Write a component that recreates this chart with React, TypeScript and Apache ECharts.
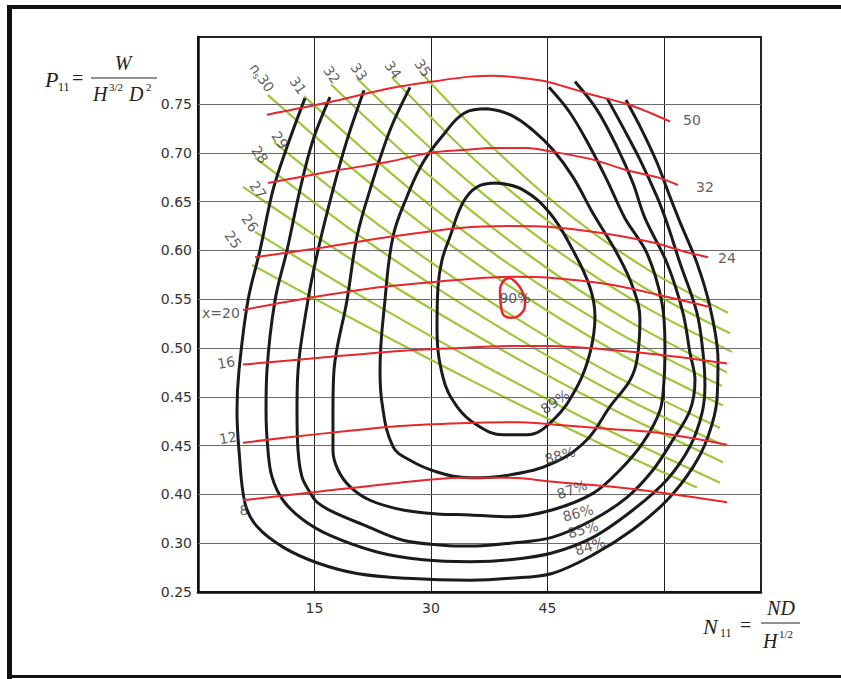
import React, { useEffect, useRef } from "react";
import * as echarts from "echarts";

// ---- axes ----
const xTickLabels = [15, 30, 45];
const yTickLabels = ["0.25", "0.30", "0.40", "0.45", "0.45", "0.50", "0.55", "0.60", "0.65", "0.70", "0.75"];
const yGridValues = [0.3, 0.35, 0.4, 0.45, 0.5, 0.55, 0.6, 0.65, 0.7, 0.75];

// ---- efficiency contours [N11, P11-position] ----
const eff84 = [[13.78,0.756],[11.46,0.706],[9.66,0.662],[7.98,0.600],[6.44,0.549],[5.28,0.477],[5.02,0.436],[5.28,0.395],[6.05,0.341],[7.60,0.317],[10.95,0.296],[15.32,0.280],[20.47,0.269],[26.91,0.264],[35.02,0.262],[40.18,0.264],[45.58,0.269],[50.86,0.288],[56.01,0.314],[60.39,0.344],[63.74,0.378],[65.67,0.409],[66.83,0.447],[66.96,0.488],[65.93,0.542],[64.25,0.587],[62.07,0.629],[60.78,0.655],[59.10,0.690],[57.17,0.723],[55.11,0.754]];
const eff85 = [[17.00,0.757],[14.81,0.713],[13.13,0.662],[11.46,0.600],[9.92,0.549],[8.88,0.477],[8.76,0.436],[9.01,0.395],[9.53,0.368],[10.95,0.344],[13.52,0.324],[17.00,0.308],[23.05,0.291],[28.97,0.283],[35.02,0.281],[40.18,0.283],[45.58,0.290],[50.86,0.306],[56.01,0.334],[60.39,0.365],[63.35,0.399],[64.90,0.433],[65.28,0.462],[65.03,0.495],[64.25,0.536],[62.07,0.587],[60.39,0.628],[59.10,0.655],[56.91,0.693],[54.73,0.726],[52.67,0.756]];
const eff86 = [[21.38,0.764],[19.19,0.713],[17.38,0.662],[15.45,0.600],[14.16,0.549],[12.88,0.477],[12.75,0.436],[12.88,0.395],[13.39,0.368],[14.42,0.352],[15.32,0.342],[17.38,0.332],[21.25,0.319],[26.40,0.303],[31.55,0.298],[35.02,0.297],[40.18,0.300],[45.58,0.306],[50.86,0.324],[55.24,0.347],[58.59,0.375],[61.16,0.406],[63.35,0.436],[64.00,0.467],[63.35,0.495],[62.45,0.536],[60.39,0.587],[57.56,0.633],[56.01,0.669],[53.95,0.706],[51.38,0.744],[48.54,0.773]];
const eff87 = [[27.30,0.767],[24.72,0.723],[22.15,0.662],[20.47,0.614],[19.19,0.549],[17.51,0.477],[17.38,0.436],[17.38,0.395],[18.03,0.375],[19.57,0.358],[22.15,0.344],[26.40,0.334],[30.78,0.330],[35.02,0.329],[40.18,0.327],[45.58,0.334],[50.86,0.351],[54.34,0.375],[57.30,0.403],[59.49,0.436],[60.01,0.467],[60.13,0.501],[59.75,0.546],[57.82,0.597],[54.98,0.633],[52.67,0.672],[50.48,0.706],[47.90,0.741],[45.20,0.767]];
const eff88 = [[37.21,0.745],[34.38,0.741],[31.55,0.718],[28.97,0.690],[26.91,0.655],[25.11,0.614],[24.08,0.549],[23.44,0.477],[23.69,0.444],[25.11,0.399],[27.30,0.385],[30.78,0.373],[35.02,0.367],[40.18,0.370],[45.71,0.382],[50.09,0.406],[53.05,0.440],[55.63,0.467],[56.53,0.488],[56.91,0.529],[56.01,0.562],[53.95,0.597],[50.86,0.638],[48.29,0.675],[45.71,0.703],[43.14,0.723],[40.18,0.739],[37.21,0.745]];
const eff89 = [[38.50,0.669],[41.85,0.662],[45.33,0.638],[48.29,0.600],[50.48,0.562],[51.12,0.532],[50.48,0.495],[48.80,0.460],[45.71,0.426],[42.36,0.411],[39.27,0.411],[35.93,0.421],[33.35,0.440],[31.55,0.470],[30.78,0.522],[30.90,0.562],[31.42,0.590],[32.45,0.614],[34.12,0.649],[35.93,0.665],[38.50,0.669]];
const eff90 = [[40.18,0.572],[41.46,0.562],[42.11,0.546],[41.46,0.534],[40.18,0.531],[39.15,0.537],[38.89,0.556],[39.27,0.568],[40.18,0.572]];

// ---- guide-vane opening lines (red) ----
const open50 = [[8.88,0.739],[17.00,0.752],[24.72,0.766],[30.26,0.773],[35.02,0.778],[37.99,0.779],[42.36,0.776],[45.33,0.772],[50.48,0.760],[55.24,0.750],[58.20,0.741],[60.78,0.732]];
const open32 = [[9.01,0.669],[17.90,0.682],[24.72,0.691],[29.87,0.700],[34.38,0.703],[37.99,0.705],[42.36,0.705],[45.71,0.701],[50.86,0.693],[55.24,0.682],[59.49,0.674],[61.81,0.667]];
const open24 = [[7.34,0.593],[16.10,0.603],[24.72,0.614],[33.74,0.623],[40.18,0.625],[45.33,0.624],[51.76,0.618],[58.59,0.608],[62.97,0.598],[65.67,0.593]];
const open20 = [[5.79,0.539],[14.04,0.551],[23.05,0.562],[33.74,0.570],[40.18,0.573],[45.33,0.572],[53.05,0.565],[59.49,0.554],[65.93,0.542]];
const open16 = [[5.79,0.483],[15.71,0.490],[26.01,0.497],[33.74,0.500],[40.18,0.502],[45.33,0.502],[51.76,0.499],[59.49,0.493],[68.12,0.484]];
const open12 = [[5.79,0.403],[15.71,0.412],[26.01,0.420],[33.74,0.423],[41.46,0.424],[46.61,0.421],[53.05,0.417],[59.49,0.413],[68.12,0.401]];
const open8 = [[5.79,0.344],[15.71,0.353],[26.01,0.362],[33.74,0.367],[40.18,0.367],[45.71,0.363],[53.05,0.358],[59.49,0.352],[68.12,0.342]];

// ---- specific speed lines (green) ----
const ns35 = [[28.84,0.781],[38.69,0.700],[48.54,0.632],[58.40,0.578],[68.25,0.536]];
const ns34 = [[24.98,0.777],[35.86,0.691],[46.74,0.620],[57.62,0.561],[68.50,0.515]];
const ns33 = [[20.47,0.776],[32.55,0.686],[44.62,0.609],[56.69,0.546],[68.76,0.496]];
const ns32 = [[17.13,0.770],[29.87,0.676],[42.62,0.595],[55.37,0.528],[68.12,0.475]];
const ns31 = [[13.65,0.758],[27.11,0.664],[40.56,0.583],[54.02,0.516],[67.47,0.461]];
const ns30 = [[9.01,0.759],[23.66,0.659],[38.31,0.573],[52.96,0.500],[67.60,0.441]];
const ns29 = [[9.79,0.711],[24.14,0.621],[38.50,0.543],[52.86,0.475],[67.22,0.418]];
const ns28 = [[7.34,0.695],[22.37,0.606],[37.41,0.528],[52.44,0.459],[67.47,0.401]];
const ns27 = [[5.79,0.665],[21.25,0.583],[36.70,0.509],[52.15,0.442],[67.60,0.383]];
const ns26 = [[7.34,0.619],[22.31,0.547],[37.28,0.480],[52.25,0.418],[67.22,0.362]];
const ns25 = [[6.95,0.585],[21.28,0.524],[35.60,0.465],[49.93,0.409],[64.25,0.357]];

// ---- labels [N11, P11-position, text, rotation°] ----
const effLabels: [number, number, string, number][] = [
  [40.82, 0.551, "90%", 0], [45.97, 0.445, "89%", 35], [46.61, 0.390, "88%", 15],
  [48.16, 0.355, "87%", 20], [48.93, 0.331, "86%", 15], [49.57, 0.314, "85%", 15], [50.48, 0.297, "84%", 18],
];
const openingLabels: [number, number, string, number][] = [
  [63.61, 0.734, "50", 0], [65.28, 0.665, "32", 0], [68.12, 0.592, "24", 0], [2.96, 0.536, "x=20", 0],
  [3.61, 0.485, "16", 10], [3.86, 0.408, "12", 10], [5.92, 0.334, "8", 0],
];
const nsLabels: [number, number, string, number][] = [
  [8.24, 0.777, "{n|n}{s|s}{n|30}", -55], [12.88, 0.769, "31", -55], [17.25, 0.780, "32", -55],
  [20.73, 0.783, "33", -55], [25.11, 0.785, "34", -55], [28.97, 0.787, "35", -55],
  [10.56, 0.713, "29", -55], [7.98, 0.698, "28", -55], [7.73, 0.662, "27", -55],
  [6.70, 0.628, "26", -55], [4.51, 0.611, "25", -55],
];

const FONT = "DejaVu Sans";
const BLACK = "#1b1b1b";
const RED = "#e8262b";
const GREEN = "#9fc73a";
const TEXT = "#333";

const lineSeries = (data: number[][], color: string, width: number, z: number, smooth = 0.35) => ({
  type: "line",
  data,
  symbol: "none",
  showSymbol: false,
  smooth,
  silent: true,
  z,
  lineStyle: { color, width },
});

const labelSeries = (items: [number, number, string, number][], size: number) => ({
  type: "scatter",
  symbolSize: 0,
  silent: true,
  clip: false,
  z: 20,
  data: items.map(([x, y, t, r]) => ({ value: [x, y], label: { formatter: t, rotate: r } })),
  label: {
    show: true,
    position: "inside",
    color: TEXT,
    fontSize: size,
    fontFamily: FONT,
    rich: {
      n: { fontSize: size, fontFamily: FONT, color: TEXT },
      s: { fontSize: 9, fontFamily: FONT, color: TEXT, padding: [8, 0, 0, 0] },
    },
  },
});

const serif = "Liberation Serif";

const graphic = [
  { type: "rect", shape: { x: 7, y: 5, width: 834, height: 4 }, style: { fill: "#111" } },
  { type: "rect", shape: { x: 7, y: 5, width: 5, height: 674 }, style: { fill: "#111" } },
  { type: "rect", shape: { x: 7, y: 675, width: 834, height: 3 }, style: { fill: "#111" } },
  // P11 = W / (H^{3/2} D^2)
  { type: "text", x: 45, y: 79, style: { text: "P", font: `italic 22px "${serif}"`, fill: "#222", verticalAlign: "middle" } },
  { type: "text", x: 58, y: 87, style: { text: "11", font: `12px "${serif}"`, fill: "#222", verticalAlign: "middle" } },
  { type: "text", x: 72, y: 78, style: { text: "=", font: `20px "${serif}"`, fill: "#222", verticalAlign: "middle" } },
  { type: "line", shape: { x1: 91, y1: 78, x2: 157, y2: 78 }, style: { stroke: "#222", lineWidth: 1 } },
  { type: "text", x: 123, y: 63, style: { text: "W", font: `italic 20px "${serif}"`, fill: "#222", align: "center", verticalAlign: "middle" } },
  { type: "text", x: 93, y: 94, style: { text: "H", font: `italic 20px "${serif}"`, fill: "#222", verticalAlign: "middle" } },
  { type: "text", x: 109, y: 87, style: { text: "3/2", font: `11px "${serif}"`, fill: "#222", verticalAlign: "middle" } },
  { type: "text", x: 129, y: 94, style: { text: "D", font: `italic 20px "${serif}"`, fill: "#222", verticalAlign: "middle" } },
  { type: "text", x: 146, y: 87, style: { text: "2", font: `11px "${serif}"`, fill: "#222", verticalAlign: "middle" } },
  // N11 = ND / H^{1/2}
  { type: "text", x: 703, y: 626, style: { text: "N", font: `italic 22px "${serif}"`, fill: "#222", verticalAlign: "middle" } },
  { type: "text", x: 720, y: 633, style: { text: "11", font: `12px "${serif}"`, fill: "#222", verticalAlign: "middle" } },
  { type: "text", x: 740, y: 625, style: { text: "=", font: `20px "${serif}"`, fill: "#222", verticalAlign: "middle" } },
  { type: "line", shape: { x1: 761, y1: 623, x2: 800, y2: 623 }, style: { stroke: "#222", lineWidth: 1 } },
  { type: "text", x: 781, y: 608, style: { text: "ND", font: `italic 20px "${serif}"`, fill: "#222", align: "center", verticalAlign: "middle" } },
  { type: "text", x: 763, y: 641, style: { text: "H", font: `italic 20px "${serif}"`, fill: "#222", verticalAlign: "middle" } },
  { type: "text", x: 779, y: 634, style: { text: "1/2", font: `11px "${serif}"`, fill: "#222", verticalAlign: "middle" } },
];

const option = {
  animation: false,
  backgroundColor: "#fff",
  grid: { left: 198, top: 37, width: 563, height: 555, show: true, borderColor: "#222", borderWidth: 2, backgroundColor: "transparent" },
  xAxis: {
    type: "value",
    min: 0,
    max: 72.5,
    interval: 15,
    axisLine: { show: true, onZero: false, lineStyle: { color: "#111", width: 2.5 } },
    axisTick: { show: false },
    splitLine: { show: true, lineStyle: { color: "#222", width: 1 } },
    axisLabel: {
      formatter: (v: number) => (xTickLabels.includes(Math.round(v)) && Math.abs(v - Math.round(v)) < 1e-6 ? String(Math.round(v)) : ""),
      color: TEXT,
      fontSize: 14,
      fontFamily: FONT,
      margin: 9,
    },
  },
  yAxis: {
    type: "value",
    min: 0.25,
    max: 0.8186,
    interval: 0.05,
    axisLine: { show: true, onZero: false, lineStyle: { color: "#111", width: 2.5 } },
    axisTick: { show: false },
    splitLine: { show: false },
    axisLabel: {
      formatter: (v: number) => {
        const i = (v - 0.25) / 0.05;
        if (Math.abs(i - Math.round(i)) > 1e-6) return "";
        return yTickLabels[Math.round(i)] ?? "";
      },
      color: TEXT,
      fontSize: 14,
      fontFamily: FONT,
      margin: 6,
    },
  },
  graphic,
  series: [
    {
      type: "line",
      data: [],
      symbol: "none",
      silent: true,
      z: 1,
      markLine: {
        silent: true,
        symbol: ["none", "none"],
        label: { show: false },
        lineStyle: { color: "#6a6a6a", width: 1.2, type: "solid" },
        data: yGridValues.map((v) => ({ yAxis: v })),
      },
    },
    ...[ns25, ns26, ns27, ns28, ns29, ns30, ns31, ns32, ns33, ns34, ns35].map((d) => lineSeries(d, GREEN, 2.2, 3, 0.3)),
    ...[eff84, eff85, eff86, eff87].map((d) => lineSeries(d, BLACK, 3, 5)),
    lineSeries(eff88, BLACK, 3, 5, 0.4),
    lineSeries(eff89, BLACK, 3, 5, 0.4),
    ...[open50, open32, open24, open20, open16, open12, open8].map((d) => lineSeries(d, RED, 2, 6, 0.3)),
    lineSeries(eff90, RED, 2.5, 7, 0.5),
    labelSeries(effLabels, 14),
    labelSeries(openingLabels, 14),
    labelSeries(nsLabels, 14),
  ],
};

export default function App() {
  const ref = useRef<HTMLDivElement>(null);
  useEffect(() => {
    if (!ref.current) return;
    const chart = echarts.init(ref.current, undefined, { renderer: "svg" });
    chart.setOption(option as any);
    return () => chart.dispose();
  }, []);
  return (
    <div
      ref={ref}
      style={{ position: "absolute", left: 0, top: 0, width: 841, height: 679, background: "#fff" }}
    />
  );
}
